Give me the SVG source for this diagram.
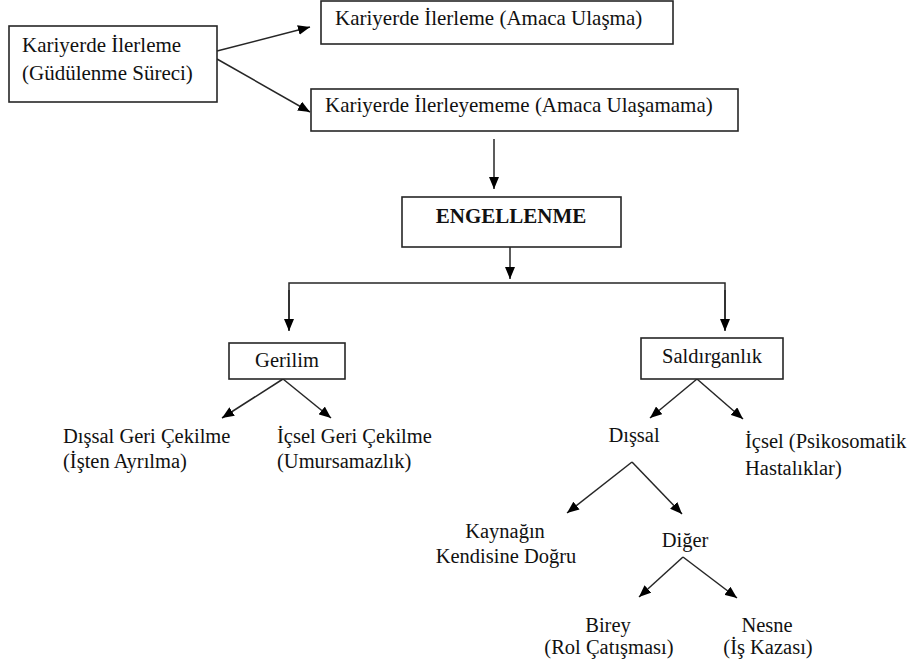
<svg xmlns="http://www.w3.org/2000/svg" width="920" height="665" viewBox="0 0 920 665">
<defs>
<style>
.box{fill:#fff;stroke:#262626;stroke-width:1.6}
.t{font-family:"Liberation Serif","Times New Roman","DejaVu Serif",serif;font-size:20.5px;fill:#111}
.l{font-size:21px}
.c{text-anchor:middle}
.b{font-weight:bold}
.ln{fill:none;stroke:#262626;stroke-width:1.5}
.ar{fill:none;stroke:#262626;stroke-width:1.5;marker-end:url(#ah)}
</style>
<marker id="ah" viewBox="0 0 12 10" refX="12" refY="5" markerWidth="12" markerHeight="10" markerUnits="userSpaceOnUse" orient="auto">
<path d="M0,0 L12,5 L0,10 z" fill="#000"/>
</marker>
</defs>
<rect width="920" height="665" fill="#fff"/>

<g id="connectors">
<line class="ar" x1="217" y1="51" x2="310" y2="27"/>
<line class="ar" x1="217" y1="59" x2="310" y2="112"/>
<line class="ar" x1="494" y1="139" x2="494" y2="189"/>
<line class="ar" x1="510" y1="247" x2="510" y2="279"/>
<polyline class="ln" points="289,330 289,283 725,283 725,330"/>
<line class="ar" x1="289" y1="290" x2="289" y2="331"/>
<line class="ar" x1="725" y1="290" x2="725" y2="331"/>
<line class="ar" x1="283" y1="379" x2="222" y2="418"/>
<line class="ar" x1="283" y1="379" x2="331" y2="418"/>
<line class="ar" x1="697" y1="379" x2="650" y2="418"/>
<line class="ar" x1="697" y1="379" x2="743" y2="419"/>
<line class="ar" x1="632" y1="462" x2="567" y2="513"/>
<line class="ar" x1="632" y1="462" x2="682" y2="514"/>
<line class="ar" x1="683" y1="557" x2="639" y2="597"/>
<line class="ar" x1="683" y1="557" x2="737" y2="598"/>
</g>

<g id="n-kariyer-ilerleme">
<rect class="box" x="9" y="26" width="208" height="76"/>
<text class="t l" x="22" y="52">Kariyerde İlerleme</text>
<text class="t l" x="22" y="80">(Güdülenme Süreci)</text>
</g>

<g id="n-amaca-ulasma">
<rect class="box" x="321" y="1" width="352" height="43"/>
<text class="t l" x="335" y="25">Kariyerde İlerleme (Amaca Ulaşma)</text>
</g>

<g id="n-amaca-ulasamama">
<rect class="box" x="311" y="89" width="427" height="42"/>
<text class="t l" x="325" y="112">Kariyerde İlerleyememe (Amaca Ulaşamama)</text>
</g>

<g id="n-engellenme">
<rect class="box" x="402" y="197" width="219" height="50"/>
<text class="t l c b" x="511" y="223">ENGELLENME</text>
</g>

<g id="n-gerilim">
<rect class="box" x="229" y="343" width="116" height="36"/>
<text class="t c" x="287" y="367">Gerilim</text>
</g>

<g id="n-saldirganlik">
<rect class="box" x="641" y="338" width="142" height="41"/>
<text class="t c" x="712" y="363">Saldırganlık</text>
</g>

<g id="n-dissal-geri">
<text class="t" x="63" y="443">Dışsal Geri Çekilme</text>
<text class="t" x="63" y="468">(İşten Ayrılma)</text>
</g>

<g id="n-icsel-geri">
<text class="t" x="277" y="443">İçsel Geri Çekilme</text>
<text class="t" x="277" y="468">(Umursamazlık)</text>
</g>

<g id="n-dissal">
<text class="t c" x="634" y="442">Dışsal</text>
</g>

<g id="n-icsel">
<text class="t" x="745" y="448">İçsel (Psikosomatik</text>
<text class="t" x="745" y="475">Hastalıklar)</text>
</g>

<g id="n-kaynagin">
<text class="t c" x="505" y="538">Kaynağın</text>
<text class="t c" x="506" y="563">Kendisine Doğru</text>
</g>

<g id="n-diger">
<text class="t c" x="685" y="547">Diğer</text>
</g>

<g id="n-birey">
<text class="t c" x="608" y="632">Birey</text>
<text class="t c" x="609" y="654">(Rol Çatışması)</text>
</g>

<g id="n-nesne">
<text class="t c" x="767" y="632">Nesne</text>
<text class="t c" x="768" y="654">(İş Kazası)</text>
</g>
</svg>
